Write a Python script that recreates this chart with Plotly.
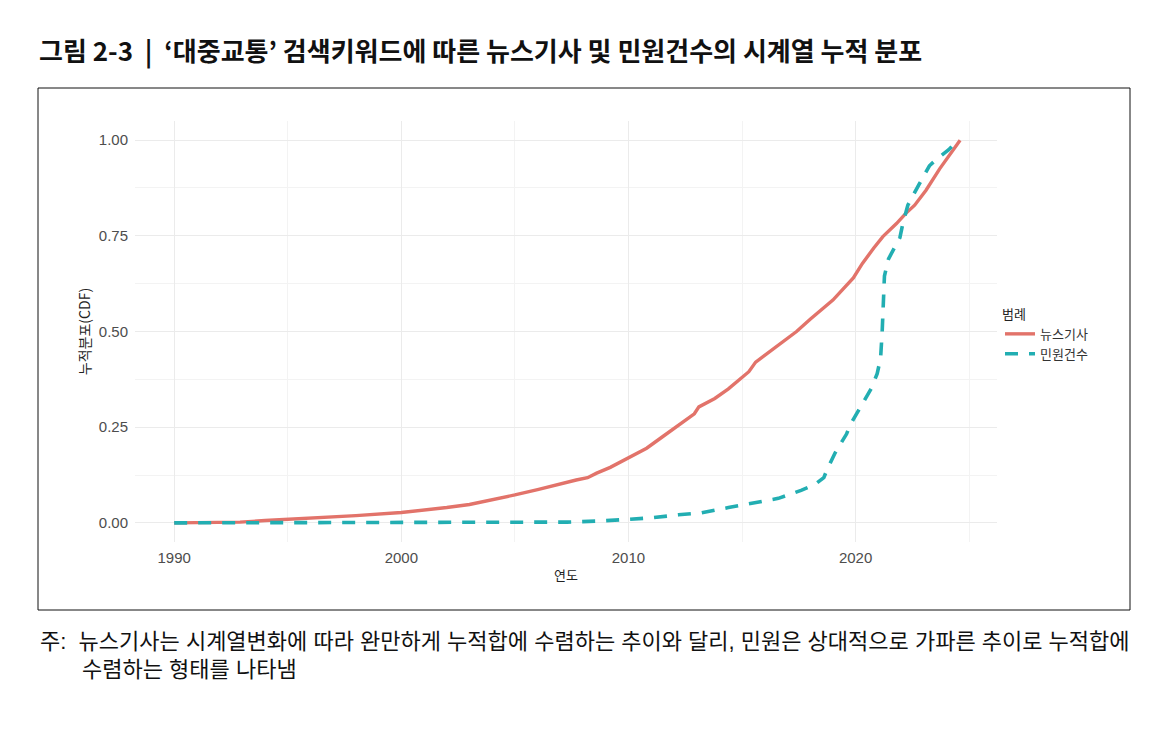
import plotly.graph_objects as go

# ---- data ----
news_year = [1990.0, 1992.0, 1992.9, 1994.0, 1996.0, 1998.0, 2000.0, 2001.0, 2002.0, 2003.0, 2004.0,
             2005.0, 2006.0, 2007.0, 2007.7, 2008.2, 2008.6, 2009.2, 2010.0, 2010.8, 2011.5,
             2012.2, 2012.9, 2013.1, 2013.8, 2014.4, 2015.0, 2015.3, 2015.6, 2016.4, 2017.4,
             2018.0, 2019.0, 2019.9, 2020.3, 2020.8, 2021.2, 2021.8, 2022.2, 2022.6, 2023.1,
             2023.7, 2024.1, 2024.6]
news_cdf = [0.0, 0.001, 0.002, 0.006, 0.012, 0.019, 0.027, 0.033, 0.040, 0.048, 0.060,
            0.073, 0.087, 0.103, 0.112, 0.118, 0.130, 0.145, 0.170, 0.195, 0.225,
            0.256, 0.285, 0.303, 0.325, 0.350, 0.380, 0.395, 0.420, 0.455, 0.500,
            0.532, 0.582, 0.640, 0.678, 0.718, 0.748, 0.782, 0.808, 0.830, 0.869,
            0.925, 0.960, 1.0]

civil_year = [1990.0, 2006.5, 2007.3, 2008.8, 2010.0, 2011.0, 2012.2, 2013.2, 2014.4, 2015.4,
              2016.6, 2017.6, 2018.2, 2018.6, 2018.75, 2019.1, 2019.6, 2019.75, 2020.2, 2020.7,
              2020.95, 2021.1, 2021.17, 2021.23, 2021.27, 2021.45, 2021.65, 2021.95, 2022.08,
              2022.3, 2022.8, 2023.25, 2023.6, 2024.1, 2024.5]
civil_cdf = [0.0, 0.0, 0.002, 0.005, 0.010, 0.013, 0.021, 0.026, 0.040, 0.050,
             0.064, 0.085, 0.100, 0.118, 0.140, 0.183, 0.232, 0.255, 0.300, 0.352,
             0.390, 0.430, 0.500, 0.580, 0.645, 0.690, 0.712, 0.745, 0.782,
             0.830, 0.885, 0.933, 0.952, 0.975, 1.0]

series_names = ["뉴스기사", "민원건수"]
x_ticks = [1990, 2000, 2010, 2020]
y_ticks = [0.0, 0.25, 0.5, 0.75, 1.0]
y_tick_labels = ["0.00", "0.25", "0.50", "0.75", "1.00"]

title_text = "그림 2-3  |  ‘대중교통’ 검색키워드에 따른 뉴스기사 및 민원건수의 시계열 누적 분포"
note_line1 = "주:\u00a0\u00a0뉴스기사는 시계열변화에 따라 완만하게 누적합에 수렴하는 추이와 달리, 민원은 상대적으로 가파른 추이로 누적합에"
note_line2 = "수렴하는 형태를 나타냄"

# ---- figure geometry (reference pixels; page has an 8px body margin) ----
OFF = 8
W, H = 1156 - OFF, 731 - OFF
L, R, T, B = 135, 997, 121, 542

def px(xp):
    return (xp - L) / (R - L)

def py(yp):
    return (B - yp) / (B - T)

FONT = "Noto Sans CJK KR"
TICKFONT = "Liberation Sans, Arial, Noto Sans CJK KR"
NOTEFONT = "Liberation Sans, Noto Sans CJK KR"

fig = go.Figure()
fig.add_trace(go.Scatter(x=news_year, y=news_cdf, mode="lines", name=series_names[0],
                         line=dict(color="#E2736A", width=3.4)))
fig.add_trace(go.Scatter(x=civil_year, y=civil_cdf, mode="lines", name=series_names[1],
                         line=dict(color="#22AEB2", width=3.6, dash="13px,11px")))

fig.update_layout(
    width=W, height=H,
    margin=dict(l=L - OFF, r=1156 - R, t=T - OFF, b=731 - B, pad=0),
    paper_bgcolor="white", plot_bgcolor="white",
    font=dict(family=FONT, color="#4d4d4d"),
    showlegend=True,
    legend=dict(
        title=dict(text="범례", font=dict(size=13, color="#222")),
        font=dict(size=13, color="#333"),
        x=px(1000), y=py(302), xanchor="left", yanchor="top",
        bgcolor="rgba(0,0,0,0)", itemwidth=30, tracegroupgap=0,
    ),
    xaxis=dict(
        range=[1988.275, 2026.225], tickmode="array", tickvals=x_ticks,
        ticktext=[str(v) for v in x_ticks],
        showgrid=True, gridcolor="#ebebeb", gridwidth=1,
        minor=dict(dtick=5, tick0=1990, showgrid=True, gridcolor="#f3f3f3", gridwidth=1),
        zeroline=False, showline=False, ticks="",
        tickfont=dict(size=15, color="#4d4d4d", family=TICKFONT), ticklabelstandoff=5,
        title=dict(text="연도", font=dict(size=13, color="#222"), standoff=5),
    ),
    yaxis=dict(
        range=[-0.05, 1.05], tickmode="array", tickvals=y_ticks, ticktext=y_tick_labels,
        showgrid=True, gridcolor="#ebebeb", gridwidth=1,
        minor=dict(dtick=0.125, tick0=0, showgrid=True, gridcolor="#f3f3f3", gridwidth=1),
        zeroline=False, showline=False, ticks="",
        tickfont=dict(size=15, color="#4d4d4d", family=TICKFONT), ticklabelstandoff=6,
        title=dict(text="누적분포(CDF)", font=dict(size=14, color="#222"), standoff=4),
    ),
    shapes=[dict(type="rect", xref="paper", yref="paper",
                 x0=px(38), x1=px(1130), y0=py(610), y1=py(88),
                 line=dict(color="#111", width=1), fillcolor="rgba(0,0,0,0)", layer="below")],
    annotations=[
        dict(text="<b>" + title_text + "</b>", xref="paper", yref="paper",
             x=px(37), y=py(50), xanchor="left", yanchor="middle", showarrow=False,
             font=dict(size=26, color="#111", family=FONT)),
        dict(text=note_line1, xref="paper", yref="paper",
             x=px(38), y=py(641), xanchor="left", yanchor="middle", showarrow=False,
             font=dict(size=22, color="#111", family=NOTEFONT)),
        dict(text=note_line2, xref="paper", yref="paper",
             x=px(80), y=py(669), xanchor="left", yanchor="middle", showarrow=False,
             font=dict(size=22, color="#111", family=NOTEFONT)),
    ],
)

fig.write_html("out.html")
